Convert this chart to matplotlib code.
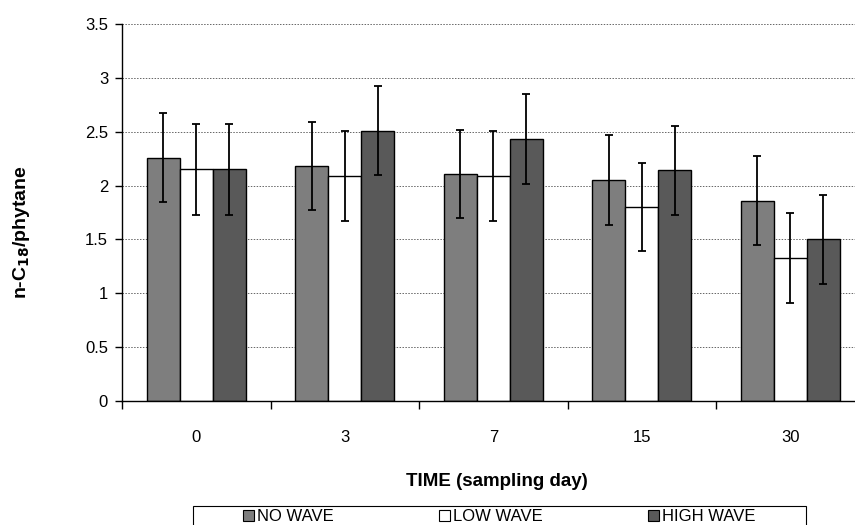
import matplotlib
matplotlib.use("Agg")
import matplotlib.pyplot as plt
import numpy as np
from matplotlib.patches import Patch, Rectangle

plt.rcParams['font.family'] = ['Liberation Sans', 'DejaVu Sans']

days = ["0", "3", "7", "15", "30"]
series_names = ["NO WAVE", "LOW WAVE", "HIGH WAVE"]
no_wave = [2.26, 2.18, 2.11, 2.05, 1.86]
low_wave = [2.15, 2.09, 2.09, 1.80, 1.33]
high_wave = [2.15, 2.51, 2.43, 2.14, 1.50]
no_err = [0.41, 0.41, 0.41, 0.42, 0.41]
low_err = [0.42, 0.42, 0.42, 0.41, 0.42]
high_err = [0.42, 0.41, 0.42, 0.41, 0.41]

colors = ["#7e7e7e", "#ffffff", "#595959"]

fig = plt.figure(figsize=(8.55, 5.25), dpi=100)
ax = fig.add_axes([122/855, 1-401/525, (864.5-122)/855, (401-24)/525])

x = np.arange(len(days))
w = 0.222
for i, (vals, errs) in enumerate(zip([no_wave, low_wave, high_wave], [no_err, low_err, high_err])):
    pos = x + (i - 1) * w
    ax.bar(pos, vals, width=w, color=colors[i], edgecolor="black", linewidth=1.0, zorder=2)
    ax.errorbar(pos, vals, yerr=errs, fmt="none", ecolor="black", elinewidth=1.3,
                capsize=2.8, capthick=1.3, zorder=3)

ax.set_xlim(-0.5, 4.5)
ax.set_ylim(0, 3.5)
ax.set_yticks(np.arange(0, 3.51, 0.5))
ax.set_yticklabels(["0", "0.5", "1", "1.5", "2", "2.5", "3", "3.5"], fontsize=12)
ax.yaxis.grid(True, linestyle=(0, (1.5, 1.5)), color="#666666", linewidth=0.7, zorder=0)
ax.set_axisbelow(True)

ax.set_xticks(x)
ax.set_xticklabels(days, fontsize=12)
ax.tick_params(axis="x", length=0, pad=21)
ax.set_xticks(np.arange(-0.5, 4.6, 1.0), minor=True)
ax.tick_params(axis="x", which="minor", length=6, direction="out", width=1)
ax.tick_params(axis="y", length=5, direction="out", width=1, pad=5)

for s in ["top", "right"]:
    ax.spines[s].set_visible(False)
ax.spines["left"].set_linewidth(1)
ax.spines["bottom"].set_linewidth(1)

fig.text(22/855, 1-232/525, "n-C$_{\\mathbf{18}}$/phytane", rotation=90, ha="center", va="center",
         fontsize=14, fontweight="bold")
fig.text(497/855, 1-481/525, "TIME (sampling day)", ha="center", va="center",
         fontsize=13.5, fontweight="bold")

# legend frame (extends below the figure edge, as in the reference)
fig.patches.append(Rectangle((193/855, -0.05), (806-193)/855, 0.05 + 1-506/525,
                             transform=fig.transFigure, fill=False, edgecolor="black",
                             linewidth=0.8))

handles = [Patch(facecolor=c, edgecolor="black", linewidth=0.8) for c in colors]
leg = fig.legend(handles, series_names, loc="upper center", ncol=3,
                 bbox_to_anchor=(499/855, 1-506/525), frameon=False,
                 fontsize=12, handlelength=0.7, handleheight=0.7, handletextpad=0.15,
                 columnspacing=6.3, borderpad=0.2, borderaxespad=0)

fig.savefig("out.png", dpi=100)
